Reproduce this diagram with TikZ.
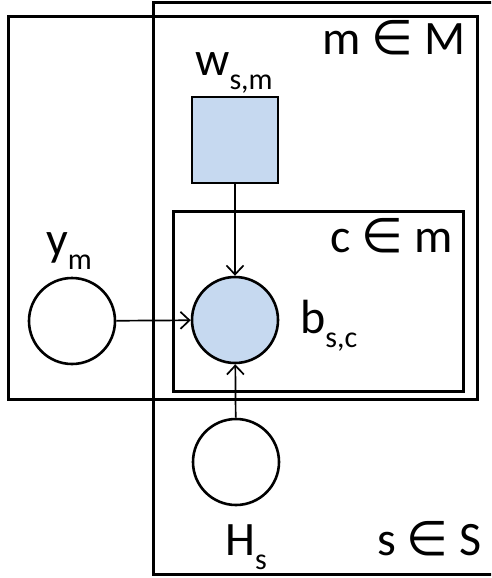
\documentclass[tikz,border=0pt]{standalone}
\usepackage{fontspec}
\setmainfont{Carlito}
\newfontfamily\elemfont{DejaVu Sans}
\usetikzlibrary{arrows.meta}
\definecolor{myblue}{RGB}{198,217,240}
\newcommand{\dsub}[1]{\raisebox{-0.3em}{\fontsize{30}{30}\selectfont #1}}
\newcommand{\elem}{{\elemfont ∈}}

\begin{document}
\begin{tikzpicture}[x=1pt, y=-1pt,
  plate/.style={draw, line width=3pt},
  rv/.style={circle, draw, line width=2.6pt, minimum size=86pt, inner sep=0pt},
  obs/.style={rv, fill=myblue},
  param/.style={rectangle, draw, line width=2.6pt, fill=myblue,
                minimum size=86pt, inner sep=0pt},
  lbl/.style={anchor=base west, inner sep=0pt, font=\fontsize{48}{58}\selectfont},
  arr/.style={line width=1.7pt,
              -{Straight Barb[length=9pt, width=17pt, line width=1.7pt]}}]
  \useasboundingbox (0,0) rectangle (491,578);
  \clip (0,0) rectangle (491,578);

  % plates
  \draw[plate] (153,3) rectangle (510,574);
  \draw[plate] (8,17) rectangle (477,399);
  \draw[plate] (173,211) rectangle (463,391);

  \node[lbl] (lM) at (322,55) {m \elem{} M};
  \node[lbl] (lc) at (330,252) {c \elem{} m};
  \node[lbl] (lS) at (377,555) {s \elem{} S};

  % variables
  \node[param] (w) at (235,140) {};
  \node[obs] (b) at (235,320) {};
  \node[rv] (y) at (72,321) {};
  \node[rv] (H) at (236,462) {};

  \node[lbl] (lw) at (195,75) {w\dsub{s,m}};
  \node[lbl] (ly) at (46,255) {y\dsub{m}};
  \node[lbl] (lb) at (300,333) {b\dsub{s,c}};
  \node[lbl] (lH) at (225,555) {H\dsub{s}};

  \draw[arr] (w) -- (b);
  \draw[arr] (y) -- (b);
  \draw[arr] (H) -- (b);
\end{tikzpicture}
\end{document}
